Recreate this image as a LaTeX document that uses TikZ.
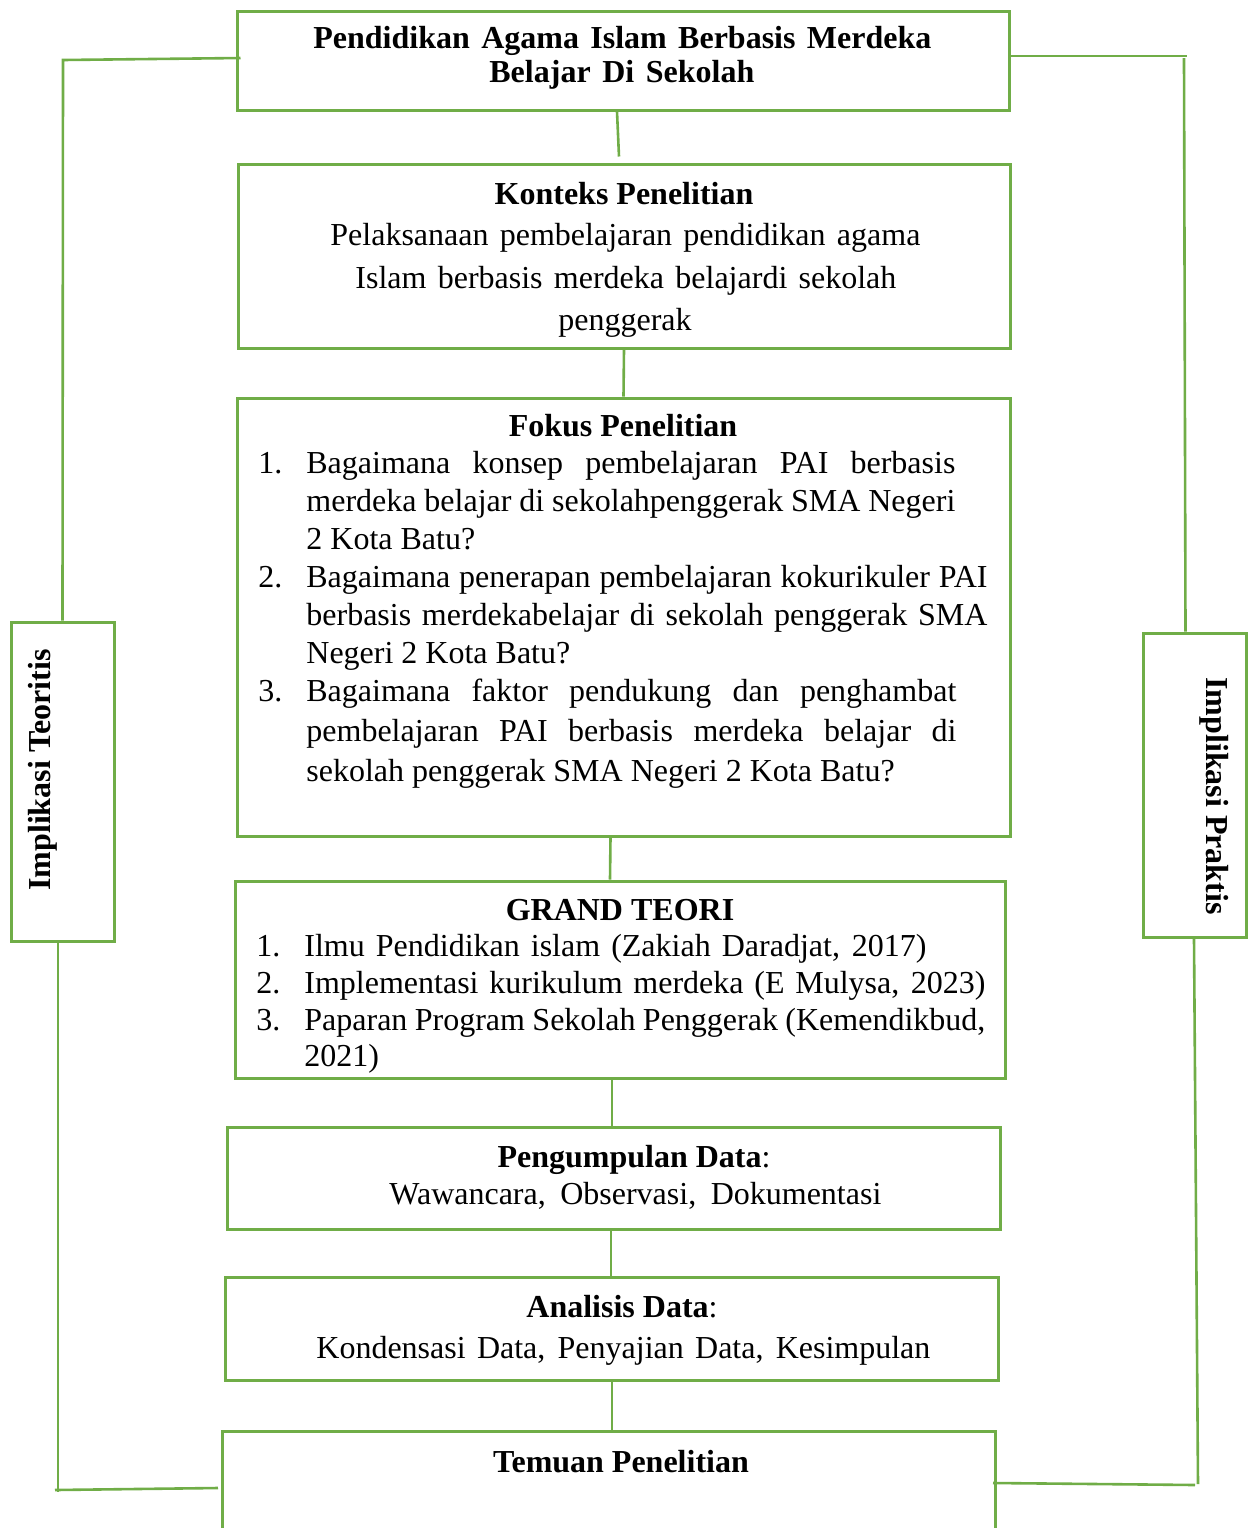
\documentclass[tikz,border=0pt]{standalone}
\usepackage{fontspec}
\setmainfont{Liberation Serif}
\usetikzlibrary{fit,calc}
\definecolor{grn}{HTML}{70AD47}
\begin{document}
\begin{tikzpicture}[x=0.5pt,y=-0.5pt,
  box/.style={draw=grn,line width=1.5pt,inner sep=0pt,rectangle},
  conn/.style={draw=grn,line width=1.3pt},
  t/.style={anchor=base,inner sep=0pt,font=\fontsize{16}{19}\selectfont},
  tl/.style={t,anchor=base west},
  tb/.style={t,font=\fontsize{16}{19}\selectfont\bfseries}]
\useasboundingbox (0,0) rectangle (1248,1528);

% boxes
\node[box,fit={(237,11)(1009,110)}] (top) {};
\node[box,fit={(238,164)(1010,348)}] (kont) {};
\node[box,fit={(237,398)(1010,836)}] (fokus) {};
\node[box,fit={(235,881)(1005,1078)}] (grand) {};
\node[box,fit={(227,1127)(1000,1229)}] (peng) {};
\node[box,fit={(225,1277)(998,1380)}] (anal) {};
\node[inner sep=0pt,fit={(223,1432)(995,1545)}] (temuan) {};
\draw[box] (temuan.south west) -- (temuan.north west) -- (temuan.north east) -- (temuan.south east);
\node[box,fit={(11,622)(114,941)}] (lbox) {};
\node[box,fit={(1143,633)(1246,937)}] (rbox) {};

% vertical chain connectors
\draw[conn] ($(top.south)+(-6,0)$) -- ($(kont.north)+(-5,-6)$);
\draw[conn] (kont.south) -- (fokus.north);
\draw[conn] ($(fokus.south)+(-13,0)$) -- ($(grand.north)+(-10,0)$);
\draw[conn] ($(grand.south)+(-8,0)$) -- ($(peng.north)+(-1.5,0)$);
\draw[conn] ($(peng.south)+(-2.5,0)$) -- ($(anal.north)+(-0.5,0)$);
\draw[conn] ($(anal.south)+(0.5,0)$) -- ($(temuan.north)+(3,0)$);

% left side
\coordinate (tlc) at (63,60);
\draw[conn] ($(top.west)+(5,-2.5)$) -- (tlc) -- (lbox.north);
\coordinate (blc) at (58,1490);
\coordinate (blend) at (218,1488);
\draw[conn] ($(lbox.south)+(-4.5,0)$) -- ($(blc)+(0,2)$);
\draw[conn] ($(blc)+(-3,0)$) -- (blend);

% right side
\coordinate (trc) at (1187,56);
\draw[conn] ($(top.east)+(0,-4.5)$) -- (trc);
\draw[conn] ($(trc)+(-3,2)$) -- ($(rbox.north)+(-9,0)$);
\coordinate (brc) at (1198,1484);
\coordinate (brend) at (993,1483);
\draw[conn] ($(rbox.south)+(-0.5,0)$) -- (brc);
\draw[conn] (brend) -- ($(brc)+(-3,1)$);

% top box text
\node[tb,anchor=base west] (a1) at (313,48) {\makebox[309pt][s]{Pendidikan Agama Islam Berbasis Merdeka}};
\node[tb,anchor=base west] (a2) at (489,82) {\makebox[132.5pt][s]{Belajar Di Sekolah}};

% konteks
\node[tb] (b0) at (624,204) {Konteks Penelitian};
\node[tl] (b1) at (330,245) {\makebox[295pt][s]{Pelaksanaan pembelajaran pendidikan agama}};
\node[tl] (b2) at (355,288) {\makebox[270.5pt][s]{Islam berbasis merdeka belajardi sekolah}};
\node[t] (b3) at (625,330) {penggerak};

% fokus
\node[tb] (c0) at (623,436) {Fokus Penelitian};
\node[tl] (n1) at (258,473) {1.};
\node[tl] (c1) at (306,473) {\makebox[324.5pt][s]{Bagaimana konsep pembelajaran PAI berbasis}};
\node[tl] (c2) at (306,511) {\makebox[324.5pt][s]{merdeka belajar di sekolahpenggerak SMA Negeri}};
\node[tl] (c3) at (306,549) {2 Kota Batu?};
\node[tl] (n2) at (258,587) {2.};
\node[tl] (c4) at (306,587) {\makebox[340.5pt][s]{Bagaimana penerapan pembelajaran kokurikuler PAI}};
\node[tl] (c5) at (306,625) {\makebox[340.5pt][s]{berbasis merdekabelajar di sekolah penggerak SMA}};
\node[tl] (c6) at (306,663) {Negeri 2 Kota Batu?};
\node[tl] (n3) at (258,701) {3.};
\node[tl] (c7) at (306,701) {\makebox[325pt][s]{Bagaimana faktor pendukung dan penghambat}};
\node[tl] (c8) at (306,741) {\makebox[325pt][s]{pembelajaran PAI berbasis merdeka belajar di}};
\node[tl] (c9) at (306,781) {sekolah penggerak SMA Negeri 2 Kota Batu?};

% grand teori
\node[tb] (d0) at (620,920) {GRAND TEORI};
\node[tl] (m1) at (256,956) {1.};
\node[tl] (d1) at (304,956) {\makebox[311pt][s]{Ilmu Pendidikan islam (Zakiah Daradjat, 2017)}};
\node[tl] (m2) at (256,993) {2.};
\node[tl] (d2) at (304,993) {\makebox[340.5pt][s]{Implementasi kurikulum merdeka (E Mulysa, 2023)}};
\node[tl] (m3) at (256,1030) {3.};
\node[tl] (d3) at (304,1030) {\makebox[340.5pt][s]{Paparan Program Sekolah Penggerak (Kemendikbud,}};
\node[tl] (d4) at (304,1066) {2021)};

% pengumpulan
\node[t] (e0) at (634,1167) {\textbf{Pengumpulan Data}:};
\node[tl] (e1) at (389,1204) {\makebox[246pt][s]{Wawancara, Observasi, Dokumentasi}};

% analisis
\node[t] (f0) at (622,1317) {\textbf{Analisis Data}:};
\node[tl] (f1) at (316,1358) {\makebox[307pt][s]{Kondensasi Data, Penyajian Data, Kesimpulan}};

% temuan
\node[tb] (g0) at (621,1472) {Temuan Penelitian};

% side labels
\node[tb,rotate=90,anchor=center] (lt) at (43,770) {Implikasi Teoritis};
\node[tb,rotate=-90,anchor=center] (rt) at (1214,796) {Implikasi Praktis};
\end{tikzpicture}
\end{document}
